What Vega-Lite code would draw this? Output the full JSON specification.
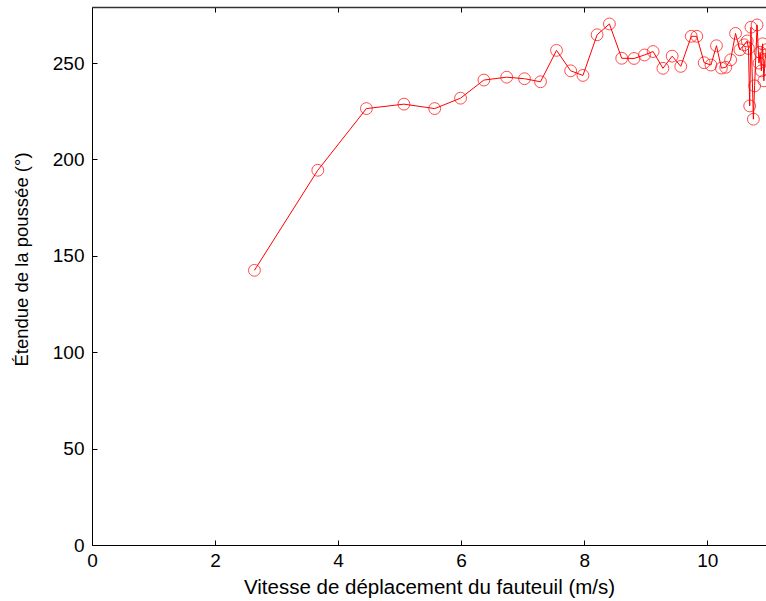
{
  "$schema": "https://vega.github.io/schema/vega-lite/v6.json",
  "width": 674,
  "height": 538,
  "autosize": "none",
  "padding": {"left": 92, "top": 7, "right": 0, "bottom": 56},
  "background": "white",
  "config": {
    "view": {"stroke": null},
    "font": "Liberation Sans",
    "axis": {
      "grid": false,
      "domainColor": "black",
      "tickColor": "black",
      "labelColor": "black",
      "titleColor": "black",
      "labelFont": "Liberation Sans",
      "titleFont": "Liberation Sans",
      "labelFontSize": 19,
      "titleFontSize": 19,
      "titleFontWeight": "normal",
      "labelFlush": false,
      "labelOverlap": false,
      "tickSize": -5
    }
  },
  "data": {
    "values": [
      {"vitesse": 2.64, "etendue": 142.5},
      {"vitesse": 3.67, "etendue": 194.4},
      {"vitesse": 4.46, "etendue": 226.4},
      {"vitesse": 5.07, "etendue": 228.7},
      {"vitesse": 5.57, "etendue": 226.4},
      {"vitesse": 5.99, "etendue": 231.8},
      {"vitesse": 6.37, "etendue": 241.2},
      {"vitesse": 6.74, "etendue": 242.7},
      {"vitesse": 7.03, "etendue": 241.9},
      {"vitesse": 7.29, "etendue": 240.3},
      {"vitesse": 7.55, "etendue": 256.6},
      {"vitesse": 7.78, "etendue": 246.0},
      {"vitesse": 7.98, "etendue": 243.6},
      {"vitesse": 8.21, "etendue": 264.7},
      {"vitesse": 8.41, "etendue": 270.3},
      {"vitesse": 8.61, "etendue": 252.5},
      {"vitesse": 8.81, "etendue": 252.4},
      {"vitesse": 8.98, "etendue": 254.2},
      {"vitesse": 9.12, "etendue": 256.0},
      {"vitesse": 9.28, "etendue": 247.3},
      {"vitesse": 9.43, "etendue": 253.6},
      {"vitesse": 9.57, "etendue": 248.3},
      {"vitesse": 9.74, "etendue": 263.9},
      {"vitesse": 9.83, "etendue": 263.9},
      {"vitesse": 9.95, "etendue": 250.2},
      {"vitesse": 10.06, "etendue": 249.0},
      {"vitesse": 10.15, "etendue": 259.0},
      {"vitesse": 10.23, "etendue": 247.4},
      {"vitesse": 10.30, "etendue": 247.8},
      {"vitesse": 10.38, "etendue": 251.7},
      {"vitesse": 10.46, "etendue": 265.4},
      {"vitesse": 10.53, "etendue": 256.9},
      {"vitesse": 10.60, "etendue": 259.5},
      {"vitesse": 10.65, "etendue": 261.5},
      {"vitesse": 10.67, "etendue": 257.6},
      {"vitesse": 10.69, "etendue": 227.8},
      {"vitesse": 10.71, "etendue": 268.6},
      {"vitesse": 10.75, "etendue": 220.9},
      {"vitesse": 10.77, "etendue": 238.2},
      {"vitesse": 10.81, "etendue": 269.8},
      {"vitesse": 10.84, "etendue": 250.0},
      {"vitesse": 10.86, "etendue": 255.6},
      {"vitesse": 10.88, "etendue": 246.0},
      {"vitesse": 10.90, "etendue": 260.0},
      {"vitesse": 10.92, "etendue": 240.8},
      {"vitesse": 10.94, "etendue": 252.0},
      {"vitesse": 10.97, "etendue": 257.0}
    ]
  },
  "layer": [
    {
      "mark": {"type": "line", "color": "#ff0000", "strokeWidth": 1, "clip": true},
      "encoding": {
        "x": {
          "field": "vitesse",
          "type": "quantitative",
          "scale": {"domain": [0, 10.955], "nice": false, "zero": false},
          "axis": {
            "orient": "bottom",
            "title": "Vitesse de déplacement du fauteuil (m/s)",
            "titleFontSize": 20.5,
            "values": [0, 2, 4, 6, 8, 10],
            "labelPadding": 11,
            "titleY": 32,
            "titleBaseline": "top"
          }
        },
        "y": {
          "field": "etendue",
          "type": "quantitative",
          "scale": {"domain": [0, 279.1], "nice": false},
          "axis": {
            "orient": "left",
            "title": "Étendue de la poussée (°)",
            "titleFontSize": 18.5,
            "values": [0, 50, 100, 150, 200, 250],
            "labelPadding": 13,
            "titleX": -61,
            "titleY": 252,
            "titleBaseline": "bottom"
          }
        }
      }
    },
    {
      "mark": {
        "type": "point",
        "shape": "circle",
        "filled": false,
        "color": "#ff0000",
        "size": 140,
        "strokeWidth": 1,
        "clip": true
      },
      "encoding": {
        "x": {
          "field": "vitesse",
          "type": "quantitative",
          "axis": {
            "orient": "top",
            "title": null,
            "labels": false,
            "values": [0, 2, 4, 6, 8, 10],
            "domainColor": "#333333",
            "domainWidth": 1.5
          }
        },
        "y": {"field": "etendue", "type": "quantitative"}
      }
    }
  ]
}
